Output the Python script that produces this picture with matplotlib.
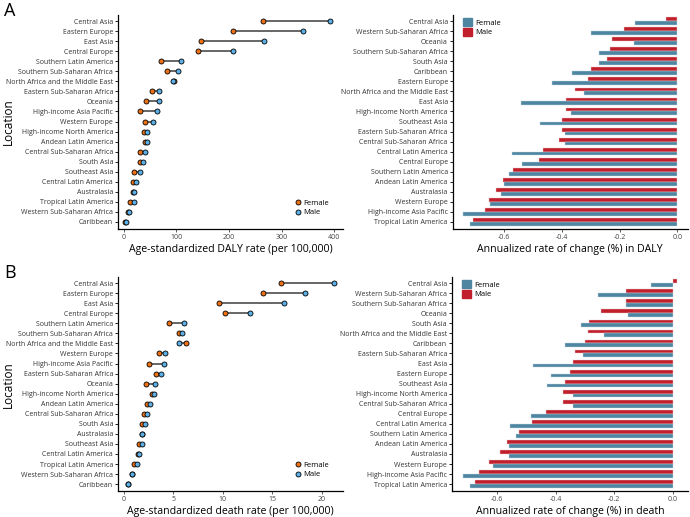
import matplotlib
matplotlib.use("Agg")
import matplotlib.pyplot as plt
from matplotlib.patches import Patch
from matplotlib.lines import Line2D

plt.rcParams['font.family'] = ['Open Sans', 'DejaVu Sans']

# ---- A: DALY rates (top to bottom) ----
dalyLocs = ["Central Asia", "Eastern Europe", "East Asia", "Central Europe",
            "Southern Latin America", "Southern Sub-Saharan Africa",
            "North Africa and the Middle East", "Eastern Sub-Saharan Africa",
            "Oceania", "High-income Asia Pacific", "Western Europe",
            "High-income North America", "Andean Latin America",
            "Central Sub-Saharan Africa", "South Asia", "Southeast Asia",
            "Central Latin America", "Australasia", "Tropical Latin America",
            "Western Sub-Saharan Africa", "Caribbean"]
dalyFemale = [264, 207, 146, 141, 71, 83, 95, 54, 42, 31, 41, 38, 40, 32, 31, 19, 17, 18, 13, 9, 3]
dalyMale = [392, 341, 267, 208, 108, 103, 93, 67, 67, 63, 55, 45, 45, 40, 37, 31, 23, 20, 19, 9.5, 4]

# ---- A: annualized change in DALY ----
dalyChgLocs = ["Central Asia", "Western Sub-Saharan Africa", "Oceania",
               "Southern Sub-Saharan Africa", "South Asia", "Caribbean",
               "Eastern Europe", "North Africa and the Middle East", "East Asia",
               "High-income North America", "Southeast Asia",
               "Eastern Sub-Saharan Africa", "Central Sub-Saharan Africa",
               "Central Latin America", "Central Europe", "Southern Latin America",
               "Andean Latin America", "Australasia", "Western Europe",
               "High-income Asia Pacific", "Tropical Latin America"]
dalyChgMale = [-0.040, -0.184, -0.225, -0.234, -0.244, -0.300, -0.309, -0.356, -0.385,
               -0.386, -0.400, -0.401, -0.410, -0.467, -0.480, -0.569, -0.605, -0.628,
               -0.654, -0.668, -0.710]
dalyChgFemale = [-0.145, -0.300, -0.149, -0.270, -0.272, -0.366, -0.434, -0.325, -0.543,
                 -0.370, -0.477, -0.390, -0.391, -0.572, -0.540, -0.584, -0.600, -0.610,
                 -0.649, -0.742, -0.720]

# ---- B: death rates ----
deathLocs = ["Central Asia", "Eastern Europe", "East Asia", "Central Europe",
             "Southern Latin America", "Southern Sub-Saharan Africa",
             "North Africa and the Middle East", "Western Europe",
             "High-income Asia Pacific", "Eastern Sub-Saharan Africa", "Oceania",
             "High-income North America", "Andean Latin America",
             "Central Sub-Saharan Africa", "South Asia", "Australasia",
             "Southeast Asia", "Central Latin America", "Tropical Latin America",
             "Western Sub-Saharan Africa", "Caribbean"]
deathFemale = [15.9, 14.0, 9.6, 10.2, 4.6, 5.6, 6.25, 3.6, 2.6, 3.3, 2.3, 2.9, 2.4, 2.05,
               1.9, 1.85, 1.5, 1.4, 1.05, 0.85, 0.47]
deathMale = [21.2, 18.3, 16.2, 12.75, 6.1, 5.9, 5.6, 4.2, 4.1, 3.8, 3.2, 3.05, 2.65, 2.35,
             2.15, 1.88, 1.88, 1.5, 1.35, 0.87, 0.47]

# ---- B: annualized change in death ----
deathChgLocs = ["Central Asia", "Western Sub-Saharan Africa", "Southern Sub-Saharan Africa",
                "Oceania", "South Asia", "North Africa and the Middle East", "Caribbean",
                "Eastern Sub-Saharan Africa", "East Asia", "Eastern Europe",
                "Southeast Asia", "High-income North America",
                "Central Sub-Saharan Africa", "Central Europe", "Central Latin America",
                "Southern Latin America", "Andean Latin America", "Australasia",
                "Western Europe", "High-income Asia Pacific", "Tropical Latin America"]
deathChgMale = [0.015, -0.161, -0.161, -0.245, -0.286, -0.290, -0.298, -0.335, -0.342,
                -0.352, -0.369, -0.376, -0.376, -0.434, -0.481, -0.523, -0.566, -0.590,
                -0.628, -0.661, -0.676]
deathChgFemale = [-0.076, -0.256, -0.161, -0.152, -0.314, -0.234, -0.367, -0.306, -0.478,
                  -0.417, -0.430, -0.342, -0.339, -0.484, -0.555, -0.536, -0.560, -0.560,
                  -0.613, -0.716, -0.690]

colFemaleDot = "#EC7014"
colMaleDot = "#5AAFE6"
colFemaleBar = "#4E86A2"
colMaleBar = "#C01F2B"


def estilo(ax):
    for s in ["top", "right"]:
        ax.spines[s].set_visible(False)
    ax.spines["left"].set_linewidth(0.9)
    ax.spines["bottom"].set_linewidth(0.9)
    ax.tick_params(axis="y", labelsize=5.0, length=2, width=0.6, pad=1.5, labelcolor="#333333")
    ax.tick_params(axis="x", labelsize=5.0, length=2, width=0.6, pad=1.5, colors="#444444",
                   labelcolor="#444444")


def dumbbell(ax, locs, fem, mal, xlim, xticks, xlabel):
    n = len(locs)
    ys = list(range(n))
    for y, f, m in zip(ys, fem, mal):
        ax.plot([f, m], [y, y], color="#5a5a5a", lw=1.3, zorder=1)
    ax.plot(fem, ys, "o", ms=3.6, mfc=colFemaleDot, mec="black", mew=0.6, zorder=2, ls="none")
    ax.plot(mal, ys, "o", ms=3.6, mfc=colMaleDot, mec="black", mew=0.6, zorder=3, ls="none")
    ax.set_yticks(ys)
    ax.set_yticklabels(locs)
    ax.set_ylim(n - 0.3, -0.6)
    ax.set_xlim(*xlim)
    ax.set_xticks(xticks)
    ax.set_xlabel(xlabel, fontsize=7.6, labelpad=2)
    ax.set_ylabel("Location", fontsize=8.5)
    ax.yaxis.set_label_coords(-0.46, 0.5)
    estilo(ax)
    handles = [Line2D([], [], marker="o", ls="none", ms=3.6, mfc=colFemaleDot, mec="black", mew=0.6),
               Line2D([], [], marker="o", ls="none", ms=3.6, mfc=colMaleDot, mec="black", mew=0.6)]
    ax.legend(handles, ["Female", "Male"], loc="lower right", bbox_to_anchor=(0.95, 0.045),
              frameon=False, fontsize=5.5, handletextpad=0.1, labelspacing=0.3,
              handlelength=1.0, borderaxespad=0)


def barras(ax, locs, mal, fem, xlim, xlabel):
    n = len(locs)
    ys = list(range(n))
    h = 0.38
    ax.barh([y - 0.19 for y in ys], mal, height=h, color=colMaleBar, edgecolor="#e8c8c8", lw=0.3)
    ax.barh([y + 0.19 for y in ys], fem, height=h, color=colFemaleBar, edgecolor="#c8d8e0", lw=0.3)
    ax.set_yticks(ys)
    ax.set_yticklabels(locs)
    ax.set_ylim(n - 0.3, -0.6)
    ax.set_xlim(*xlim)
    ax.set_xticks([-0.6, -0.4, -0.2, 0.0])
    ax.set_xticklabels(["-0.6", "-0.4", "-0.2", "0.0"])
    ax.set_xlabel(xlabel, fontsize=7.6, labelpad=2)
    estilo(ax)
    handles = [Patch(color=colFemaleBar), Patch(color=colMaleBar)]
    ax.legend(handles, ["Female", "Male"], loc="upper left", bbox_to_anchor=(0.03, 1.0),
              frameon=False, fontsize=5.5, handletextpad=0.4, labelspacing=0.15,
              handlelength=1.2, handleheight=1.2, borderaxespad=0)


fig = plt.figure(figsize=(6.9, 5.17), dpi=100)

ax1 = fig.add_axes([0.171, 0.557, 0.326, 0.414])
ax2 = fig.add_axes([0.656, 0.557, 0.341, 0.414])
ax3 = fig.add_axes([0.171, 0.050, 0.326, 0.414])
ax4 = fig.add_axes([0.655, 0.050, 0.342, 0.414])

dumbbell(ax1, dalyLocs, dalyFemale, dalyMale, (-10.7, 416), [0, 100, 200, 300, 400],
         "Age-standardized DALY rate (per 100,000)")
barras(ax2, dalyChgLocs, dalyChgMale, dalyChgFemale, (-0.779, 0.037),
       "Annualized rate of change (%) in DALY")
dumbbell(ax3, deathLocs, deathFemale, deathMale, (-0.57, 22.1), [0, 5, 10, 15, 20],
         "Age-standardized death rate (per 100,000)")
barras(ax4, deathChgLocs, deathChgMale, deathChgFemale, (-0.753, 0.051),
       "Annualized rate of change (%) in death")

fig.text(0.006, 0.997, "A", fontsize=13, va="top", ha="left")
fig.text(0.006, 0.49, "B", fontsize=13, va="top", ha="left")

fig.savefig("out.png", dpi=100)
